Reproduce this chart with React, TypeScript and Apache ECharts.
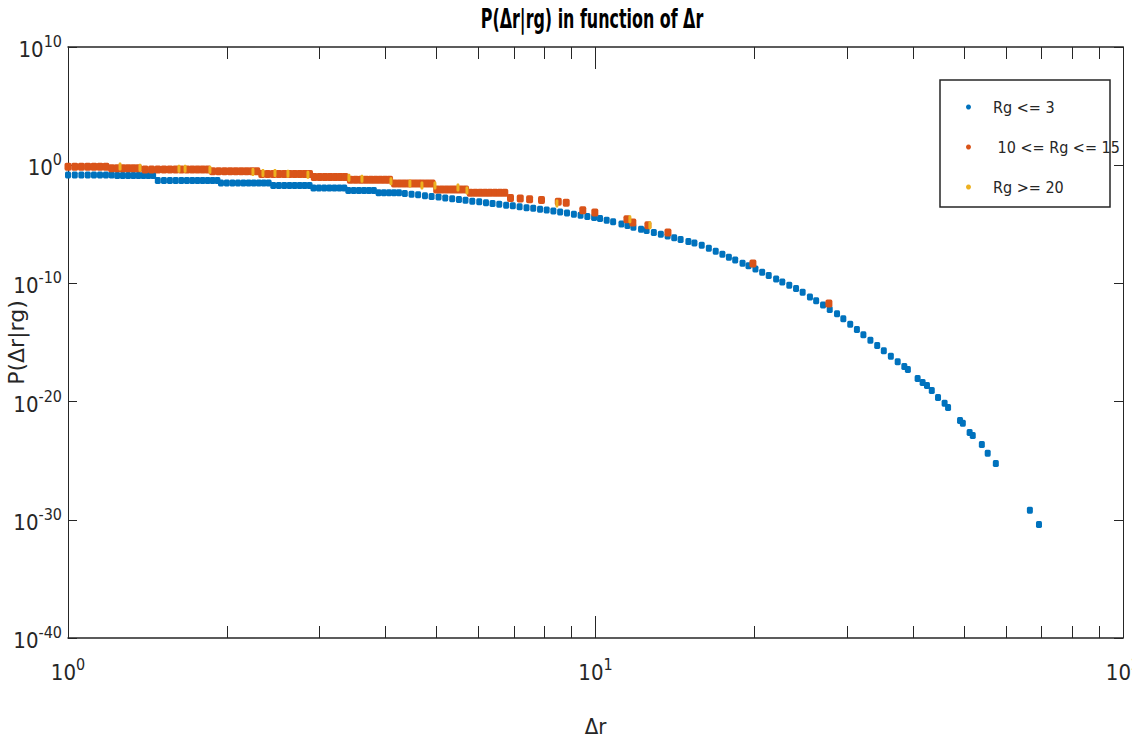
import React, { useEffect, useRef } from 'react';
import * as echarts from 'echarts';

// ---------- data (Δr, P) ----------
const seriesNames = ['Rg <= 3', ' 10 <= Rg <= 15', 'Rg >= 20'];

const rgLe3: [number, number][] = [
  [1.00, 0.151], [1.03, 0.151], [1.06, 0.151], [1.09, 0.151], [1.12, 0.151], [1.15, 0.151], [1.18, 0.151], [1.21, 0.151],
  [1.24, 0.132], [1.27, 0.132], [1.30, 0.132], [1.33, 0.132], [1.36, 0.132], [1.39, 0.132], [1.42, 0.132], [1.45, 0.132],
  [1.48, 0.0513], [1.52, 0.0513], [1.56, 0.0513], [1.60, 0.0513], [1.64, 0.0513], [1.68, 0.0513], [1.72, 0.0513], [1.76, 0.0513], [1.80, 0.0513], [1.84, 0.0513], [1.88, 0.0513], [1.92, 0.0513],
  [1.95, 0.0309], [2.00, 0.0309], [2.05, 0.0309], [2.10, 0.0309], [2.15, 0.0309], [2.20, 0.0309], [2.25, 0.0309], [2.30, 0.0309], [2.35, 0.0309], [2.40, 0.0309],
  [2.45, 0.0195], [2.51, 0.0195], [2.57, 0.0195], [2.63, 0.0195], [2.69, 0.0195], [2.75, 0.0195], [2.81, 0.0195], [2.87, 0.0195],
  [2.92, 0.0115], [2.99, 0.0115], [3.06, 0.0115], [3.13, 0.0115], [3.20, 0.0115], [3.27, 0.0115], [3.34, 0.0115],
  [3.40, 0.00741], [3.48, 0.00741], [3.56, 0.00741], [3.64, 0.00741], [3.72, 0.00741], [3.80, 0.00741],
  [3.88, 0.00468], [3.97, 0.00468], [4.06, 0.00468], [4.15, 0.00468], [4.24, 0.00468],
  [4.35, 4.07e-3], [4.48, 3.55e-3], [4.61, 3.09e-3], [4.75, 2.63e-3], [4.89, 2.29e-3], [5.04, 2.00e-3], [5.19, 1.70e-3], [5.35, 1.48e-3],
  [5.51, 1.26e-3], [5.67, 1.07e-3], [5.84, 9.12e-4], [6.02, 7.94e-4], [6.20, 6.76e-4], [6.38, 5.75e-4], [6.57, 4.90e-4], [6.77, 4.17e-4],
  [6.97, 3.63e-4], [7.18, 3.02e-4], [7.40, 2.57e-4], [7.62, 2.24e-4], [7.85, 1.91e-4], [8.08, 1.62e-4], [8.32, 1.35e-4], [8.57, 1.10e-4],
  [8.83, 8.91e-5], [9.10, 7.08e-5], [9.37, 5.75e-5], [9.65, 4.68e-5], [9.94, 3.80e-5], [10.2, 3.16e-5], [10.5, 2.24e-5], [10.8, 1.62e-5],
  [11.2, 1.07e-5], [11.5, 7.76e-6], [11.8, 5.75e-6], [12.2, 3.89e-6], [12.5, 3.02e-6], [12.9, 2.04e-6], [13.3, 1.41e-6], [13.7, 1.02e-6],
  [14.1, 7.41e-7], [14.5, 5.25e-7], [15.0, 3.55e-7], [15.4, 2.63e-7], [15.9, 1.70e-7], [16.4, 9.33e-8], [16.9, 5.13e-8], [17.4, 2.88e-8],
  [17.9, 1.66e-8], [18.4, 9.77e-9], [19.0, 5.13e-9], [19.5, 3.09e-9], [20.1, 1.62e-9], [20.7, 8.71e-10], [21.3, 4.68e-10], [22.0, 2.34e-10],
  [22.6, 1.32e-10], [23.3, 6.92e-11], [24.0, 3.63e-11], [24.7, 1.82e-11], [25.5, 7.08e-12], [26.2, 3.39e-12], [27.0, 1.48e-12], [27.8, 6.31e-13],
  [28.7, 2.75e-13], [29.5, 1.02e-13], [30.4, 3.47e-14], [31.3, 1.23e-14], [32.2, 4.47e-15], [33.2, 1.55e-15], [34.2, 5.62e-16], [35.2, 2.04e-16],
  [36.3, 6.76e-17], [37.4, 2.40e-17], [38.5, 9.33e-18],
  [39.1, 5.25e-18], [40.8, 9.12e-19], [41.7, 4.17e-19], [42.5, 2.34e-19], [43.4, 8.71e-20], [44.6, 2.24e-20], [45.9, 7.08e-21], [46.6, 3.24e-21],
  [49.1, 2.57e-22], [49.7, 1.45e-22], [51.2, 2.45e-23], [51.9, 1.38e-23], [54.0, 2.40e-24], [55.4, 4.17e-25], [57.4, 5.89e-26],
  [66.6, 6.31e-30], [69.3, 4.07e-31],
];

const rg10to15: [number, number][] = [
  [1.00, 0.724], [1.03, 0.724], [1.06, 0.724], [1.09, 0.724], [1.12, 0.724], [1.15, 0.724], [1.18, 0.724],
  [1.21, 0.562], [1.24, 0.562], [1.27, 0.562], [1.30, 0.562], [1.33, 0.562], [1.36, 0.562],
  [1.40, 0.437], [1.44, 0.437], [1.48, 0.437], [1.52, 0.437], [1.56, 0.437], [1.60, 0.437], [1.64, 0.437], [1.68, 0.437], [1.72, 0.437], [1.76, 0.437], [1.80, 0.437], [1.84, 0.437],
  [1.88, 0.302], [1.93, 0.302], [1.98, 0.302], [2.03, 0.302], [2.08, 0.302], [2.13, 0.302], [2.18, 0.302], [2.23, 0.302], [2.28, 0.302],
  [2.33, 0.182], [2.39, 0.182], [2.45, 0.182], [2.51, 0.182], [2.57, 0.182], [2.63, 0.182], [2.69, 0.182], [2.75, 0.182], [2.81, 0.182], [2.87, 0.182],
  [2.93, 0.102], [3.00, 0.102], [3.07, 0.102], [3.14, 0.102], [3.21, 0.102], [3.28, 0.102], [3.35, 0.102],
  [3.43, 0.0575], [3.51, 0.0575], [3.59, 0.0575], [3.67, 0.0575], [3.75, 0.0575], [3.83, 0.0575], [3.91, 0.0575], [3.99, 0.0575], [4.07, 0.0575],
  [4.16, 0.0288], [4.25, 0.0288], [4.34, 0.0288], [4.43, 0.0288], [4.52, 0.0288], [4.61, 0.0288], [4.70, 0.0288], [4.80, 0.0288], [4.90, 0.0288],
  [5.00, 0.00891], [5.11, 0.00891], [5.22, 0.00891], [5.33, 0.00891], [5.44, 0.00891], [5.55, 0.00891], [5.67, 0.00891],
  [5.79, 0.00457], [5.92, 0.00457], [6.05, 0.00457], [6.18, 0.00457], [6.31, 0.00457], [6.45, 0.00457], [6.59, 0.00457], [6.73, 0.00457],
  [6.90, 1.66e-3], [7.20, 1.51e-3], [7.50, 1.32e-3], [7.90, 1.12e-3], [8.50, 7.94e-4], [8.80, 6.61e-4],
  [9.46, 1.51e-4], [9.97, 1.02e-4], [11.47, 2.63e-5], [11.77, 1.45e-5], [12.57, 8.13e-6], [13.72, 2.04e-6],
  [19.88, 4.90e-9], [27.70, 2.04e-12],
];

const rgGe20: [number, number][] = [
  [1.255, 0.794], [1.369, 0.617], [1.623, 0.501], [1.667, 0.501], [1.858, 0.417], [2.242, 0.263], [2.342, 0.214],
  [2.468, 0.214], [2.612, 0.191], [2.850, 0.158], [3.409, 0.0871], [3.608, 0.0724], [4.095, 0.0447], [4.448, 0.0288],
  [4.688, 0.0195], [4.962, 0.0195], [5.486, 0.0132], [5.706, 0.00741], [8.450, 5.89e-4], [11.62, 2.63e-5], [12.68, 8.13e-6],
];

// axis ticks (Δr decades and minor positions; P decades)
const xMajorTicks = [1, 10, 100];
const xMinorTicks = [2, 3, 4, 5, 6, 7, 8, 9, 20, 30, 40, 50, 60, 70, 80, 90];
const yDecadeMin = -40;
const yDecadeMax = 10;
const yDecadeStep = 10;

const title = 'P(Δr|rg) in function of Δr';
const xName = 'Δr';
const yName = 'P(Δr|rg)';

// ---------- styling ----------
const COLORS = ['#0072BD', '#D95319', '#EDB120'];
const NARROW = '"Liberation Sans Narrow", "DejaVu Sans Condensed", "Arial Narrow", sans-serif';
const AX = '#262626';

const toLog = (pts: [number, number][]) => pts.map(([r, p]) => [Math.log10(r), Math.log10(p)]);

const rich = {
  b: { fontSize: 22, fontFamily: NARROW, color: AX, verticalAlign: 'bottom' },
  s: { fontSize: 16, fontFamily: NARROW, color: AX, verticalAlign: 'bottom', padding: [0, 0, 11, 0] },
};
const powLabel = (v: number) => `{b|10}{s|${Math.round(v)}}`;

const markerSizes = [[6, 7], [7, 8], [3, 8]];

export default function App() {
  const ref = useRef<HTMLDivElement>(null);
  useEffect(() => {
    document.body.style.margin = '0';
    if (!ref.current) return;
    const chart = echarts.init(ref.current, undefined, { renderer: 'svg' });
    const xBase = {
      type: 'value' as const,
      min: Math.log10(xMajorTicks[0]),
      max: Math.log10(xMajorTicks[xMajorTicks.length - 1]),
      interval: 1,
      splitLine: { show: false },
    };
    const yBase = {
      type: 'value' as const,
      min: yDecadeMin,
      max: yDecadeMax,
      interval: yDecadeStep,
      splitLine: { show: false },
    };
    const minorVals = xMinorTicks.map((v) => Math.log10(v));
    chart.setOption({
      animation: false,
      backgroundColor: '#ffffff',
      grid: { left: 68, right: 9, top: 47, bottom: 105, containLabel: false, outerBoundsMode: 'none' },
      graphic: [
        {
          type: 'text',
          x: 592,
          y: 19,
          scaleX: 0.68,
          style: {
            text: title,
            fontSize: 26,
            fontWeight: 'bold',
            fontFamily: NARROW,
            fill: '#000',
            textAlign: 'center',
            textVerticalAlign: 'middle',
          },
        },
        {
          type: 'rect',
          shape: { x: 940, y: 80, width: 170, height: 127 },
          style: { fill: '#fff', stroke: AX, lineWidth: 1.5 },
          z: 50,
        },
      ],
      legend: {
        show: true,
        orient: 'vertical',
        left: 966,
        top: 99,
        padding: 0,
        itemGap: 24,
        itemWidth: 5,
        itemHeight: 6,
        icon: 'circle',
        z: 60,
        data: seriesNames,
        textStyle: { fontSize: 16, fontFamily: NARROW, color: AX, padding: [0, 0, 0, 17] },
      },
      xAxis: [
        {
          ...xBase,
          position: 'bottom',
          axisLine: { show: true, onZero: false, lineStyle: { color: AX, width: 1.5 } },
          axisTick: { show: true, inside: true, length: 22, lineStyle: { color: AX } },
          axisLabel: { show: true, margin: 18, formatter: powLabel, rich },
          name: xName,
          nameLocation: 'middle',
          nameGap: 77,
          nameMoveOverlap: false,
          nameTextStyle: { fontSize: 22, fontFamily: NARROW, color: AX },
        },
        {
          ...xBase,
          position: 'bottom',
          axisLine: { show: false, onZero: false },
          axisTick: { show: true, inside: true, length: 12, customValues: minorVals, lineStyle: { color: AX } },
          axisLabel: { show: false },
        },
        {
          ...xBase,
          position: 'top',
          axisLine: { show: true, onZero: false, lineStyle: { color: AX, width: 1.5 } },
          axisTick: { show: true, inside: true, length: 22, lineStyle: { color: AX } },
          axisLabel: { show: false },
        },
        {
          ...xBase,
          position: 'top',
          axisLine: { show: false, onZero: false },
          axisTick: { show: true, inside: true, length: 12, customValues: minorVals, lineStyle: { color: AX } },
          axisLabel: { show: false },
        },
      ],
      yAxis: [
        {
          ...yBase,
          position: 'left',
          axisLine: { show: true, onZero: false, lineStyle: { color: AX, width: 1 } },
          axisTick: { show: true, inside: true, length: 9, lineStyle: { color: AX } },
          axisLabel: { show: true, margin: 6, formatter: powLabel, rich },
          name: yName,
          nameLocation: 'middle',
          nameGap: 41,
          nameMoveOverlap: false,
          nameTextStyle: { fontSize: 22, fontFamily: '"DejaVu Sans", sans-serif', color: AX },
        },
        {
          ...yBase,
          position: 'right',
          axisLine: { show: true, onZero: false, lineStyle: { color: AX, width: 1 } },
          axisTick: { show: true, inside: true, length: 9, lineStyle: { color: AX } },
          axisLabel: { show: false },
        },
      ],
      series: [
        { name: seriesNames[0], data: toLog(rgLe3), color: COLORS[0] },
        { name: seriesNames[1], data: toLog(rg10to15), color: COLORS[1] },
        { name: seriesNames[2], data: toLog(rgGe20), color: COLORS[2] },
      ].map((s, i) => ({
        type: 'scatter',
        name: s.name,
        data: s.data,
        xAxisIndex: 0,
        yAxisIndex: 0,
        symbol: 'roundRect',
        symbolSize: markerSizes[i],
        itemStyle: { color: s.color, opacity: 1 },
        emphasis: { disabled: true },
        z: 2 + i,
      })),
    });
    return () => chart.dispose();
  }, []);
  return <div ref={ref} style={{ width: 1132, height: 743 }} />;
}
